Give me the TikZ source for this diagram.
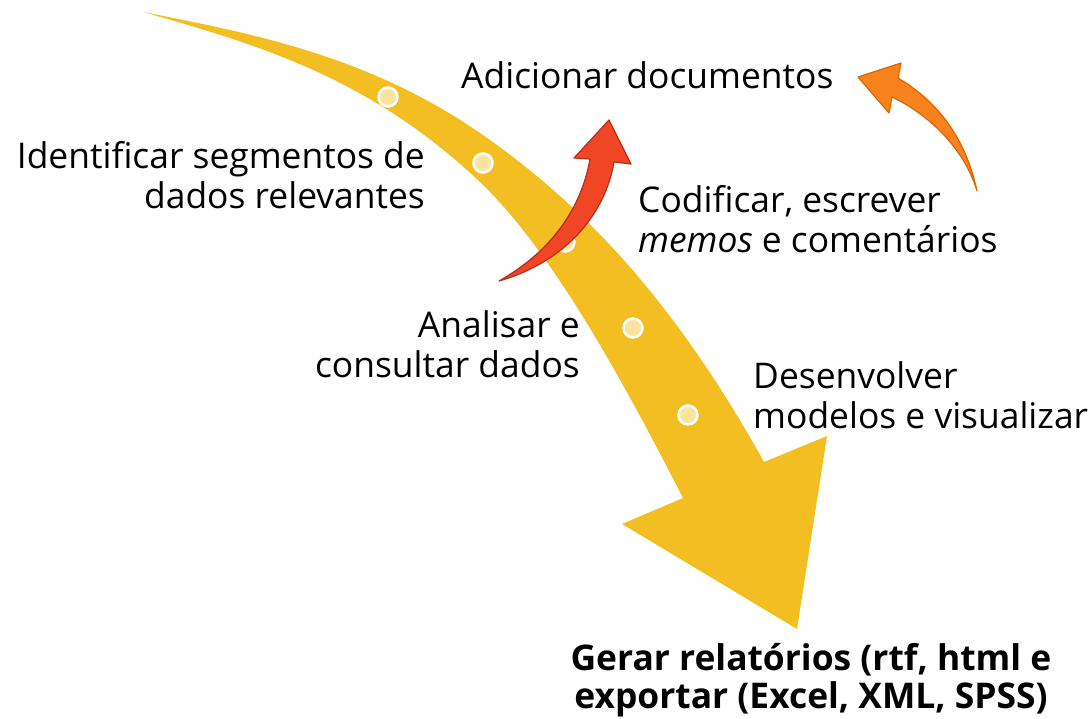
\documentclass[tikz,border=0pt]{standalone}
\usepackage{fontspec}
\setmainfont{Open Sans}
\usetikzlibrary{positioning}
\definecolor{gold}{RGB}{242,190,34}
\definecolor{dotyellow}{RGB}{250,228,160}
\definecolor{redfill}{RGB}{240,70,38}
\definecolor{redline}{RGB}{185,45,25}
\definecolor{orangefill}{RGB}{248,130,30}
\definecolor{orangeline}{RGB}{225,100,0}

\begin{document}
\begin{tikzpicture}[x=1pt,y=-1pt,
    lbl/.style={font=\fontsize{35.4}{40}\selectfont, inner sep=0pt},
    dot/.style={circle, fill=dotyellow, draw=white, line width=2.5pt, minimum size=19pt, inner sep=0pt}]
    \useasboundingbox (0,0) rectangle (1091,719);
    % big curved arrow
    \fill[gold] (143,12) .. controls (255,34) and (368,56) .. (480,133)
        .. controls (575,199) and (669,291) .. (764,462)
        -- (827,436) -- (797,629) -- (622,524) -- (683,498)
        .. controls (615,365) and (548,247) .. (480,182)
        .. controls (368,76) and (255,44) .. (143,12) -- cycle;
    \foreach \p [count=\i] in {(388,97),(483,163),(565,242),(633,328),(688,415)}
        \node[dot] (d\i) at \p {};
    % red arrow
    \filldraw[fill=redfill, draw=redline, line width=1.2pt, line join=round]
        (499,281) .. controls (545,255) and (580,215) .. (590,159)
        -- (574,158) -- (609,120) -- (631,164) -- (614,162)
        .. controls (605,215) and (565,262) .. (499,281) -- cycle;
    % orange arrow
    \filldraw[fill=orangefill, draw=orangeline, line width=1.2pt, line join=round]
        (977,191) .. controls (965,135) and (935,100) .. (898,78)
        -- (901,63) -- (858,77) -- (889,113) -- (892,97)
        .. controls (930,115) and (965,150) .. (977,191) -- cycle;
    \node[lbl, anchor=west] (add) at (461,75) {Adicionar documentos};
    \node[lbl, anchor=east, align=right] (ident) at (425,175) {Identificar segmentos de\\dados relevantes};
    \node[lbl, anchor=west, align=left] (codif) at (638,219) {Codificar, escrever\\\emph{memos} e comentários};
    \node[lbl, anchor=east, align=right] (anal) at (580,344) {Analisar e\\consultar dados};
    \node[lbl, anchor=west, align=left] (desenv) at (753,395) {Desenvolver\\modelos e visualizar};
    \node[inner sep=0pt, font=\fontsize{35.4}{38}\selectfont\bfseries, align=center] (gerar) at (811,680) {Gerar relatórios (rtf, html e\\exportar (Excel, XML, SPSS)};
\end{tikzpicture}
\end{document}
